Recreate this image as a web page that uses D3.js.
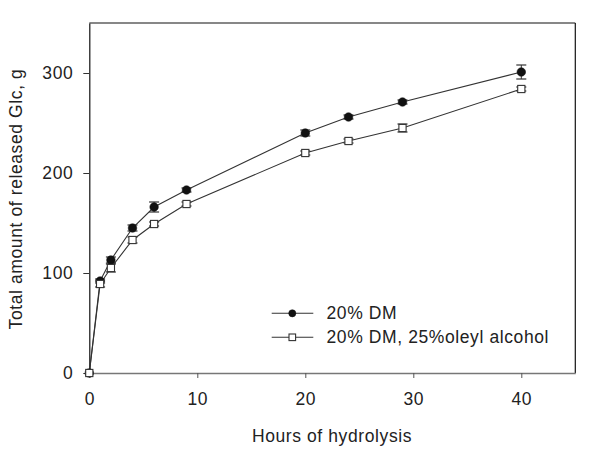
<!DOCTYPE html>
<html>
<head>
<meta charset="utf-8">
<script src="https://cdn.jsdelivr.net/npm/d3@7"></script>
<style>
html,body{margin:0;padding:0;background:#fff;}
svg{display:block;}
text{font-family:"Liberation Sans",Arial,Helvetica,sans-serif;fill:#222;}
</style>
</head>
<body>
<svg id="chart" width="600" height="452"></svg>
<script>
const hours = [0, 1, 2, 4, 6, 9, 20, 24, 29, 40];
const dmValues = [0, 92, 113, 145, 166, 183, 240, 256, 271, 301];
const dmErrors = [0, 2, 3, 3, 5, 2, 3, 2, 2, 7];
const oleylValues = [0, 89, 105, 133, 149, 169, 220, 232, 245, 284];
const oleylErrors = [0, 3, 4, 3, 2, 2, 2, 2, 4, 2];
const xTicks = [0, 10, 20, 30, 40];
const yTicks = [0, 100, 200, 300];
const seriesNames = ["20% DM", "20% DM, 25%oleyl alcohol"];
const xTitle = "Hours of hydrolysis";
const yTitle = "Total amount of released Glc, g";

const svg = d3.select("#chart");
const x = d3.scaleLinear().domain([0, 45]).range([89.3, 575.3]);
const y = d3.scaleLinear().domain([0, 350]).range([373, 23]);

const fontSize = 17.5, ls = "0.6px";

// frame top and right
svg.append("line").attr("x1", x(0)).attr("x2", x(45)).attr("y1", y(350)).attr("y2", y(350))
  .attr("stroke", "#111").attr("stroke-width", 1.2);
svg.append("line").attr("x1", x(45)).attr("x2", x(45)).attr("y1", y(350)).attr("y2", y(0))
  .attr("stroke", "#111").attr("stroke-width", 1.2);

// y axis
const yAxis = svg.append("g").attr("transform", `translate(${x(0)},0)`)
  .call(d3.axisLeft(y).tickValues(yTicks).tickSize(6).tickPadding(10).tickSizeOuter(0));
yAxis.select(".domain").attr("stroke", "#111").attr("stroke-width", 1.2);
yAxis.selectAll(".tick line").attr("stroke", "#333");
yAxis.selectAll(".tick text").attr("font-size", fontSize).style("letter-spacing", ls)
  .attr("fill", "#222").style("font-family", '"Liberation Sans",Arial,sans-serif');

// x axis
const xAxis = svg.append("g").attr("transform", `translate(0,${y(0)})`)
  .call(d3.axisBottom(x).tickValues(xTicks).tickSize(5).tickPadding(15).tickSizeOuter(0));
xAxis.select(".domain").attr("stroke", "#777").attr("stroke-width", 1.6);
xAxis.selectAll(".tick line").attr("stroke", "#555");
xAxis.selectAll(".tick text").attr("font-size", fontSize).style("letter-spacing", ls)
  .attr("fill", "#222").style("font-family", '"Liberation Sans",Arial,sans-serif');

// titles
svg.append("text").attr("x", 332).attr("y", 442).attr("text-anchor", "middle")
  .attr("font-size", fontSize).style("letter-spacing", ls).text(xTitle);
svg.append("text").attr("transform", "translate(22,199) rotate(-90)").attr("text-anchor", "middle")
  .attr("font-size", fontSize).style("letter-spacing", ls).text(yTitle);

const series = [
  {name: seriesNames[0], vals: dmValues, errs: dmErrors, type: "circle"},
  {name: seriesNames[1], vals: oleylValues, errs: oleylErrors, type: "square"}
];

const line = d3.line().x(d => x(d.h)).y(d => y(d.v));

series.forEach(s => {
  const pts = hours.map((h, i) => ({h, v: s.vals[i], e: s.errs[i]}));
  s.pts = pts;
  svg.append("path").datum(pts).attr("d", line).attr("fill", "none")
    .attr("stroke", "#333").attr("stroke-width", 1.1);
});

series.forEach(s => {
  const g = svg.append("g");
  s.pts.filter(d => d.e > 0).forEach(d => {
    const cx = x(d.h), y1 = y(d.v + d.e), y2 = y(d.v - d.e);
    g.append("line").attr("x1", cx).attr("x2", cx).attr("y1", y1).attr("y2", y2).attr("stroke", "#333").attr("stroke-width", 1);
    g.append("line").attr("x1", cx - 5).attr("x2", cx + 5).attr("y1", y1).attr("y2", y1).attr("stroke", "#333").attr("stroke-width", 1.2);
    g.append("line").attr("x1", cx - 5).attr("x2", cx + 5).attr("y1", y2).attr("y2", y2).attr("stroke", "#333").attr("stroke-width", 1.2);
  });
});

function marker(g, type, cx, cy, size) {
  if (type === "circle") {
    g.append("circle").attr("cx", cx).attr("cy", cy).attr("r", size)
      .attr("fill", "#111").attr("stroke", "#111").attr("stroke-width", 0.5);
  } else {
    g.append("rect").attr("x", cx - size).attr("y", cy - size).attr("width", 2 * size).attr("height", 2 * size)
      .attr("fill", "#fff").attr("stroke", "#333").attr("stroke-width", 1.1);
  }
}

series.forEach(s => {
  const g = svg.append("g");
  s.pts.forEach(d => marker(g, s.type, x(d.h), y(d.v), s.type === "circle" ? 4.3 : 3.6));
});

// legend
const legendY = [313.3, 337.3];
series.forEach((s, i) => {
  const g = svg.append("g");
  g.append("line").attr("x1", 271.7).attr("x2", 313.3).attr("y1", legendY[i]).attr("y2", legendY[i])
    .attr("stroke", "#333").attr("stroke-width", 1.1);
  marker(g, s.type, 292.3, legendY[i], s.type === "circle" ? 3.6 : 3.3);
  g.append("text").attr("x", 326.5).attr("y", legendY[i] + 6).attr("font-size", fontSize)
    .style("letter-spacing", ls).text(s.name);
});
</script>
</body>
</html>
